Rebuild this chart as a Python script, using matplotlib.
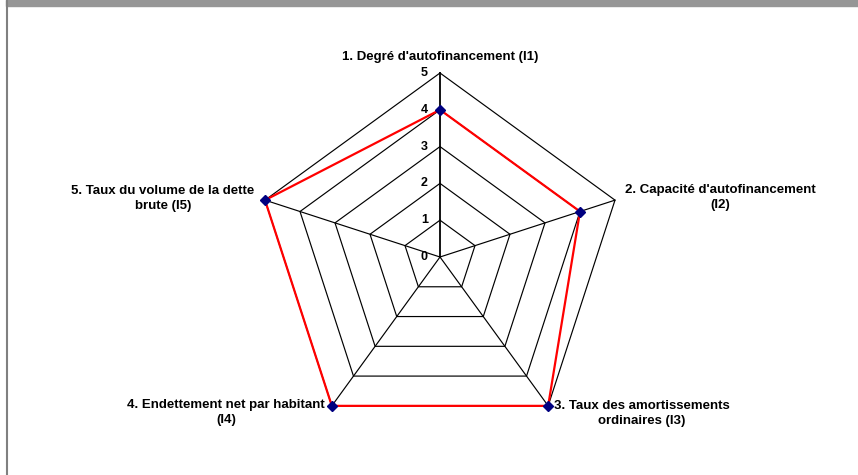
import numpy as np
import matplotlib.pyplot as plt
from matplotlib.patches import Rectangle
from matplotlib.lines import Line2D

plt.rcParams['font.family'] = ['Liberation Sans', 'DejaVu Sans']

# données du graphique radar
labels = ["1. Degré d'autofinancement (I1)",
          "2. Capacité d'autofinancement\n(I2)",
          "3. Taux des amortissements\nordinaires (I3)",
          "4. Endettement net par habitant\n(I4)",
          "5. Taux du volume de la dette\nbrute (I5)"]
values = [4, 4, 5, 5, 5]
rticks = [0, 1, 2, 3, 4, 5]

n = len(labels)
rmax = rticks[-1]
angles = np.pi / 2 - 2 * np.pi * np.arange(n) / n

fig = plt.figure(figsize=(8.58, 4.75), dpi=100)
s = 36.8  # pixels par unité
ax = fig.add_axes([0, 0, 1, 1])
ax.set_xlim(-440 / s, 418 / s)
ax.set_ylim(-218 / s, 257 / s)
ax.axis('off')

# cadre gris
fig.patches.append(Rectangle((6 / 858, 469 / 475), 1, 6 / 475, transform=fig.transFigure,
                             color='#969696', zorder=0))
fig.lines.append(Line2D([6.5 / 858, 6.5 / 858], [0, 1], transform=fig.transFigure,
                        color='#808080', lw=1.5))

# grille pentagonale
for r in rticks[1:]:
    xs = r * np.cos(np.append(angles, angles[0]))
    ys = r * np.sin(np.append(angles, angles[0]))
    ax.plot(xs, ys, color='black', lw=0.85, zorder=1)
for i, a in enumerate(angles):
    ax.plot([0, rmax * np.cos(a)], [0, rmax * np.sin(a)], color='black',
            lw=1.3 if i == 0 else 0.85, zorder=1)

# étiquettes de l'axe des valeurs
for r in rticks:
    ax.text(-12 / s, r, str(r), ha='right', va='center', fontsize=9, fontweight='bold')

# série
v = np.array(values)
xs = v * np.cos(angles)
ys = v * np.sin(angles)
ax.plot(np.append(xs, xs[0]), np.append(ys, ys[0]), color='red', lw=1.6, zorder=2)
ax.plot(xs, ys, 'D', color='#000080', markersize=5.5, zorder=3)

# libellés des axes
offsets = [(0, 16), (105, 3), (94, -8), (-106, -7), (-102, 2)]
for lab, a, off in zip(labels, angles, offsets):
    ax.annotate(lab, xy=(rmax * np.cos(a), rmax * np.sin(a)), xytext=off,
                textcoords='offset pixels', ha='center', va='center',
                fontsize=9.5, fontweight='bold', linespacing=1.35)

fig.savefig('out.png', dpi=100)
